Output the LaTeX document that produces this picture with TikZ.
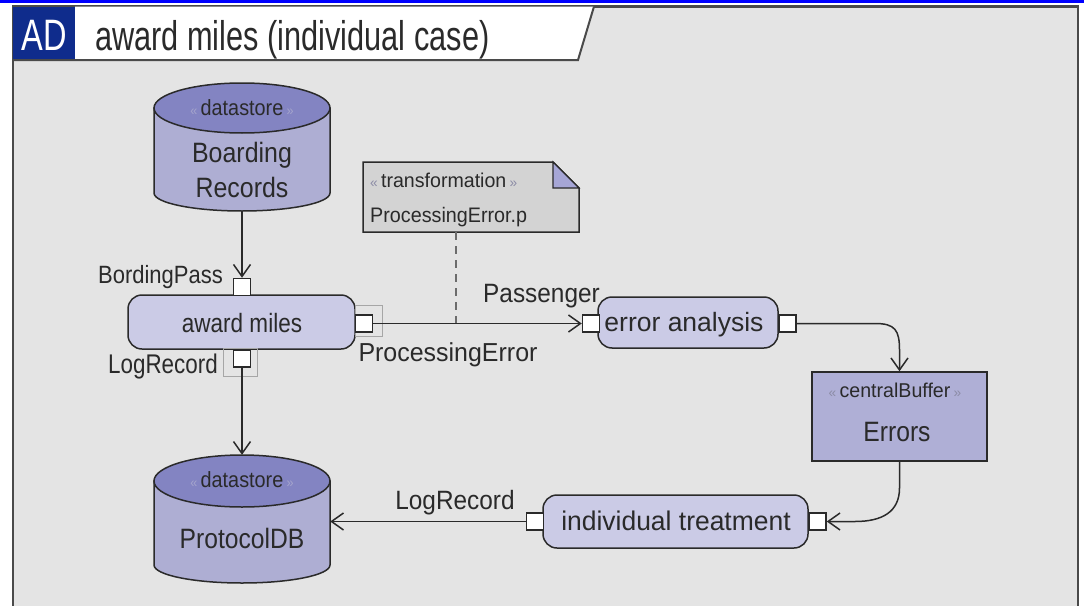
\documentclass[tikz,border=0pt]{standalone}
\usepackage{fontspec}
\usepackage{graphicx}
\setmainfont{Liberation Sans}
\usetikzlibrary{arrows.meta}
\definecolor{framefill}{HTML}{E4E4E4}
\definecolor{framec}{HTML}{4A4A4A}
\definecolor{linec}{HTML}{2A2A2A}
\definecolor{cylbody}{HTML}{AEAED3}
\definecolor{cyltop}{HTML}{8384C2}
\definecolor{actfill}{HTML}{CBCBE6}
\definecolor{buffill}{HTML}{AFAFD6}
\definecolor{notefill}{HTML}{D3D3D3}
\definecolor{foldfill}{HTML}{A6A6D6}
\definecolor{navy}{HTML}{0F2C8C}
\definecolor{guil}{HTML}{8C8CA6}
\definecolor{guilb}{HTML}{A4A4CC}
\definecolor{topblue}{HTML}{0000FF}
\newcommand\fsz[1]{\fontsize{#1}{#1}\selectfont}
\newcommand\tx[3]{\scalebox{#2}[1]{\fsz{#1}#3}}
\newcommand\stereo[2][guil]{{\color{#1}\fsz{14}«}\,#2\,{\color{#1}\fsz{14}»}}
\tikzset{
  txt/.style={inner sep=0pt, anchor=base, text=linec},
  action/.style={draw=linec, line width=1.5pt, fill=actfill, rounded corners=14pt, inner sep=0pt},
  pinbox/.style={draw=linec, fill=white, line width=1.5pt, minimum size=17pt, inner sep=0pt},
  buffer/.style={draw=linec, line width=1.5pt, fill=buffill, inner sep=0pt},
  cylbox/.style={inner sep=0pt, minimum width=176pt, minimum height=128pt},
  cylside/.style={fill=cylbody, draw=linec, line width=1.5pt},
  cylend/.style={fill=cyltop, draw=linec, line width=1.5pt},
  flow/.style={draw=linec, line width=1.5pt, -{Straight Barb[length=12pt,width=17pt]}},
  selbox/.style={draw=gray!70, line width=0.8pt},
}
\begin{document}
\begin{tikzpicture}[x=1pt,y=-1pt]
\useasboundingbox (0,0) rectangle (1084,605);
\fill[white] (0,0) rectangle (1084,605);
\fill[topblue] (0,0) rectangle (1084,2.5);
% frame
\fill[framefill] (13,6.5) rectangle (1078,612);
\draw[framec, line width=2.5pt] (13,612) -- (13,6.5) -- (1078,6.5) -- (1078,612);
% title tab
\fill[white] (75,6.5) -- (594,6.5) -- (578,60) -- (75,60) -- cycle;
\fill[navy] (13,6.5) rectangle (75,60);
\draw[framec, line width=2pt] (13,60) -- (578,60) -- (594,6.5);
\node[txt, text=white] (adtag) at (44,50) {\tx{44}{0.74}{AD}};
\node[txt, anchor=base west] (title) at (95,50) {\tx{41.5}{0.74}{award miles (individual case)}};

% Boarding Records cylinder
\filldraw[cylside] (154,108) -- (154,193) arc[start angle=180, end angle=360, x radius=88pt, y radius=18pt] -- (330,108) -- cycle;
\filldraw[cylend] (242,108) ellipse[x radius=88pt, y radius=25pt];
\node[cylbox] (br) at (242,147) {};
\node[txt] (brst) at (242,115) {\tx{22}{0.9}{\stereo[guilb]{datastore}}};
\node[txt] (brl1) at (242,162) {\tx{28}{0.89}{Boarding}};
\node[txt] (brl2) at (242,197) {\tx{28}{0.89}{Records}};

% ProtocolDB cylinder
\filldraw[cylside] (154,481) -- (154,565) arc[start angle=180, end angle=360, x radius=88pt, y radius=18pt] -- (330,481) -- cycle;
\filldraw[cylend] (242,481) ellipse[x radius=88pt, y radius=26pt];
\node[cylbox] (pdb) at (242,519) {};
\node[txt] (pdbst) at (242,487) {\tx{22}{0.9}{\stereo[guilb]{datastore}}};
\node[txt] (pdbl) at (242,548) {\tx{28}{0.88}{ProtocolDB}};

% note
\node[inner sep=0pt, minimum width=216pt, minimum height=70pt] (note) at (471,197) {};
\filldraw[fill=notefill, draw=linec, line width=1.5pt] (363,162) -- (553,162) -- (579,188) -- (579,232) -- (363,232) -- cycle;
\filldraw[fill=foldfill, draw=linec, line width=1.2pt] (553,162) -- (579,188) -- (553,188) -- cycle;
\node[txt, anchor=base west] (notest) at (370,187) {\tx{20}{0.98}{\stereo{transformation}}};
\node[txt, anchor=base west] (notel) at (370,222) {\tx{21}{0.94}{ProcessingError.p}};

% actions
\node[action, minimum width=227pt, minimum height=54pt] (am) at (241.5,322) {};
\node[txt] (amt) at (242,332) {\tx{26.5}{0.85}{award miles}};
\node[action, minimum width=180pt, minimum height=51pt] (ea) at (688,322.5) {};
\node[txt] (eat) at (684,331) {\tx{26.5}{1.0}{error analysis}};
\node[action, minimum width=265pt, minimum height=53pt] (it) at (675.5,521.5) {};
\node[txt] (itt) at (676,530) {\tx{27}{0.98}{individual treatment}};

% central buffer
\node[buffer, minimum width=175pt, minimum height=89pt] (err) at (899.5,416.5) {};
\node[txt] (errst) at (895,397) {\tx{20}{0.98}{\stereo{centralBuffer}}};
\node[txt] (errl) at (897,441) {\tx{28}{0.88}{Errors}};

% selection outlines
\draw[selbox] (223,348) rectangle (257,376);
\draw[selbox] (355,305) rectangle (382,336);

% pins
\node[pinbox] (p1) at (242,287) {};
\node[pinbox] (p2) at (242,358.5) {};
\node[pinbox] (p3) at (364,323.5) {};
\node[pinbox] (p4) at (591,323.5) {};
\node[pinbox] (p5) at (787.5,323.5) {};
\node[pinbox] (p6) at (535,521.5) {};
\node[pinbox] (p7) at (817.5,521.5) {};

% pin / edge labels
\node[txt] (lbp) at (160.5,283) {\tx{25}{0.88}{BordingPass}};
\node[txt] (llr1) at (163,373) {\tx{27}{0.83}{LogRecord}};
\node[txt] (lpass) at (541.5,302) {\tx{26.5}{0.92}{Passenger}};
\node[txt] (lpe) at (448,361) {\tx{26}{0.96}{ProcessingError}};
\node[txt] (llr2) at (455,509) {\tx{26.5}{0.92}{LogRecord}};

% connectors
\coordinate (dl) at (456,323);
\draw[flow] (br.south) -- (p1.north);
\draw[flow] (p2.south) -- (pdb.north);
\draw[flow] (p3.east) -- (p4.west);
\draw[draw=gray!85!black, line width=1.5pt, dash pattern=on 8pt off 6pt] (dl |- note.south) -- (dl);
\draw[flow] (p5.east) -- (875,323.5) .. controls (895,323.5) and (899.5,330) .. (899.5,350) -- (err.north);
\draw[flow] (err.south) -- (899.5,488) .. controls (899.5,512) and (882,521.5) .. (855,521.5) -- (p7.east);
\draw[flow] (p6.west) -- (p6.west -| pdb.east);
\end{tikzpicture}
\end{document}
